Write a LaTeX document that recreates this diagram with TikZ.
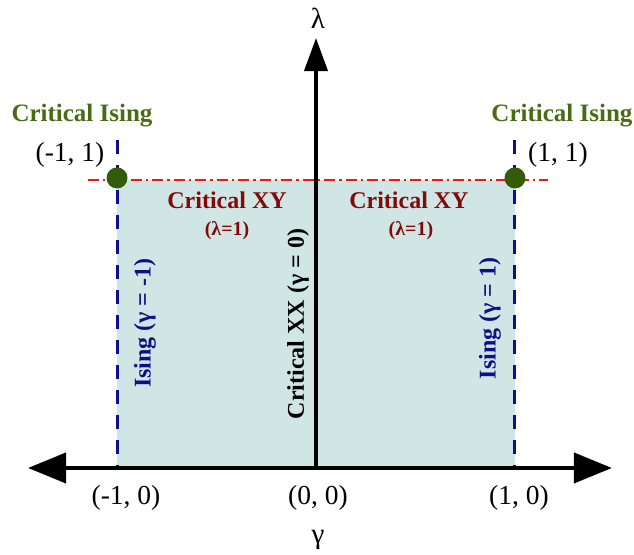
\documentclass[tikz,border=0pt]{standalone}
\usepackage{fontspec}
\setmainfont{Liberation Serif}
\usetikzlibrary{arrows.meta}
\definecolor{phasefill}{RGB}{208,230,228}
\definecolor{isingblue}{RGB}{15,15,135}
\definecolor{xyred}{RGB}{130,10,10}
\definecolor{critgreen}{RGB}{72,108,22}
\definecolor{dotgreen}{RGB}{52,92,8}
\definecolor{lamline}{RGB}{235,25,25}
\tikzset{
  coord/.style={font=\fontsize{27.5}{30}\selectfont,inner sep=0pt},
  axlab/.style={font=\fontsize{29}{30}\selectfont,inner sep=0pt},
  crit/.style={font=\fontsize{25}{30}\selectfont\bfseries,text=critgreen,inner sep=0pt},
  xy/.style={font=\fontsize{24}{28}\selectfont\bfseries,text=xyred,inner sep=0pt},
  xysub/.style={font=\fontsize{20}{24}\selectfont\bfseries,text=xyred,inner sep=0pt},
  vlab/.style={font=\fontsize{24}{28}\selectfont\bfseries,rotate=90,inner sep=0pt},
  isingline/.style={draw=isingblue,line width=3pt,dash pattern=on 14pt off 11pt},
  lamdash/.style={draw=lamline,line width=2.4pt,dash pattern=on 11pt off 4pt on 2.5pt off 4pt},
  axis/.style={line width=4pt},
}
\begin{document}
\begin{tikzpicture}[x=199pt,y=288pt]
  \useasboundingbox (-1.588,-0.302) rectangle (1.598,1.625);
  % phase region
  \fill[phasefill] (-1,0) rectangle (1,1);
  % lambda = 1 line
  \coordinate (ll) at (-1.146,1);
  \coordinate (lr) at (1.166,1);
  \draw[lamdash] (ll) -- (lr);
  % Ising lines
  \coordinate (il0) at (-1,0);
  \coordinate (il1) at (-1,1.139);
  \coordinate (ir0) at (1,0);
  \coordinate (ir1) at (1,1.139);
  \draw[isingline] (il1) -- (il0);
  \draw[isingline] (ir1) -- (ir0);
  % axes
  \coordinate (o) at (0,0);
  \coordinate (xl) at (-1.447,0);
  \coordinate (xr) at (1.487,0);
  \coordinate (yt) at (0,1.493);
  \draw[axis,{Triangle[length=38pt,width=30pt]}-{Triangle[length=38pt,width=30pt]}] (xl) -- (xr);
  \draw[axis,-{Triangle[length=33pt,width=23pt]}] (o) -- (yt);
  % critical points
  \fill[dotgreen] (-1,1.007) circle (10.5pt);
  \fill[dotgreen] (1,1.007) circle (10.5pt);
  \node[crit] (cil) at (-1.176,1.222) {Critical Ising};
  \node[crit] (cir) at (1.236,1.222) {Critical Ising};
  \node[coord] (pml) at (-1.236,1.087) {(-1, 1)};
  \node[coord] (ppl) at (1.216,1.087) {(1, 1)};
  % XY labels
  \node[xy] (xyl) at (-0.447,0.931) {Critical XY};
  \node[xysub] (lal) at (-0.447,0.823) {(λ=1)};
  \node[xy] (xyr) at (0.467,0.931) {Critical XY};
  \node[xysub] (lar) at (0.477,0.823) {(λ=1)};
  % vertical labels
  \node[vlab,text=isingblue] (ism) at (-0.859,0.503) {Ising (γ = -1)};
  \node[vlab] (xx) at (-0.09,0.5) {Critical XX (γ = 0)};
  \node[vlab,text=isingblue] (isp) at (0.874,0.52) {Ising (γ = 1)};
  % axis labels
  \node[coord] (am) at (-0.955,-0.104) {(-1, 0)};
  \node[coord] (a0) at (0.01,-0.104) {(0, 0)};
  \node[coord] (ap) at (1.02,-0.104) {(1, 0)};
  \node[axlab] (gam) at (0.01,-0.25) {γ};
  \node[axlab] (lam) at (0.01,1.5625) {λ};
\end{tikzpicture}
\end{document}
